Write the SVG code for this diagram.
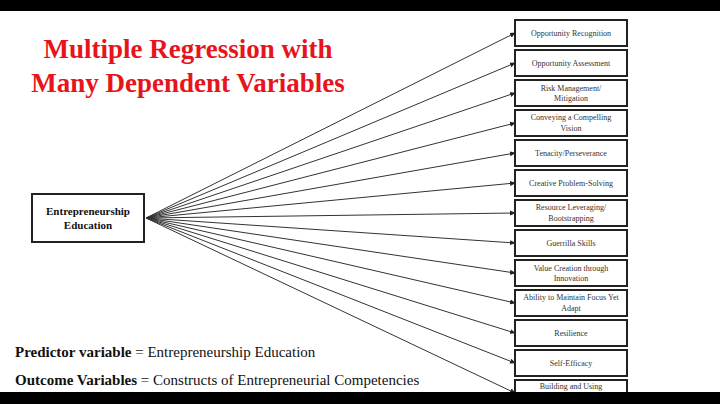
<svg xmlns="http://www.w3.org/2000/svg" width="720" height="404" viewBox="0 0 720 404">
<style>
.b{fill:#fff;stroke:#222;stroke-width:2}
.t{font-family:"Liberation Serif",serif;font-size:8px;fill:#333;text-anchor:middle}
.c line{stroke:#333;stroke-width:1;marker-end:url(#a)}
.ti{font-family:"Liberation Serif",serif;font-size:27px;font-weight:bold;fill:#e8141b;text-anchor:middle}
.f{font-family:"Liberation Serif",serif;font-size:15px;fill:#111}
</style>
<defs><marker id="a" markerWidth="6" markerHeight="6" refX="5" refY="3" orient="auto" markerUnits="userSpaceOnUse"><path d="M0,0.5L6,3L0,5.5z" fill="#222"/></marker></defs>
<rect width="720" height="404" fill="#fff"/>
<text class="ti" x="188" y="58">Multiple Regression with</text>
<text class="ti" x="188" y="92">Many Dependent Variables</text>
<g id="src"><rect class="b" x="32" y="194" width="112" height="48"/>
<text class="t" style="font-weight:bold;font-size:11px;fill:#111" x="88" y="215">Entrepreneurship</text>
<text class="t" style="font-weight:bold;font-size:11px;fill:#111" x="88" y="229">Education</text></g>
<g class="c">
<line x1="146" y1="218" x2="515" y2="33"/><line x1="146" y1="218" x2="515" y2="63"/><line x1="146" y1="218" x2="515" y2="93"/><line x1="146" y1="218" x2="515" y2="123"/><line x1="146" y1="218" x2="515" y2="153"/><line x1="146" y1="218" x2="515" y2="183"/><line x1="146" y1="218" x2="515" y2="213"/><line x1="146" y1="218" x2="515" y2="243"/><line x1="146" y1="218" x2="515" y2="273"/><line x1="146" y1="218" x2="515" y2="303"/><line x1="146" y1="218" x2="515" y2="333"/><line x1="146" y1="218" x2="515" y2="363"/><line x1="146" y1="218" x2="515" y2="393"/>
</g>
<g id="n1"><rect class="b" x="515" y="20" width="112" height="26"/><text class="t" x="571" y="36">Opportunity Recognition</text></g>
<g id="n2"><rect class="b" x="515" y="50" width="112" height="26"/><text class="t" x="571" y="66">Opportunity Assessment</text></g>
<g id="n3"><rect class="b" x="515" y="80" width="112" height="26"/><text class="t" x="571" y="91">Risk Management/</text><text class="t" x="571" y="101">Mitigation</text></g>
<g id="n4"><rect class="b" x="515" y="110" width="112" height="26"/><text class="t" x="571" y="120">Conveying a Compelling</text><text class="t" x="571" y="131">Vision</text></g>
<g id="n5"><rect class="b" x="515" y="140" width="112" height="26"/><text class="t" x="571" y="156">Tenacity/Perseverance</text></g>
<g id="n6"><rect class="b" x="515" y="170" width="112" height="26"/><text class="t" x="571" y="186">Creative Problem-Solving</text></g>
<g id="n7"><rect class="b" x="515" y="200" width="112" height="26"/><text class="t" x="571" y="210">Resource Leveraging/</text><text class="t" x="571" y="221">Bootstrapping</text></g>
<g id="n8"><rect class="b" x="515" y="230" width="112" height="26"/><text class="t" x="571" y="246">Guerrilla Skills</text></g>
<g id="n9"><rect class="b" x="515" y="260" width="112" height="26"/><text class="t" x="571" y="271">Value Creation through</text><text class="t" x="571" y="281">Innovation</text></g>
<g id="n10"><rect class="b" x="515" y="290" width="112" height="26"/><text class="t" x="571" y="300">Ability to Maintain Focus Yet</text><text class="t" x="571" y="311">Adapt</text></g>
<g id="n11"><rect class="b" x="515" y="320" width="112" height="26"/><text class="t" x="571" y="336">Resilience</text></g>
<g id="n12"><rect class="b" x="515" y="350" width="112" height="26"/><text class="t" x="571" y="366">Self-Efficacy</text></g>
<g id="n13"><rect class="b" x="515" y="380" width="112" height="26"/><text class="t" x="571" y="389">Building and Using</text></g>
<text class="f" x="15" y="357"><tspan font-weight="bold">Predictor variable</tspan> = Entrepreneurship Education</text>
<text class="f" x="15" y="385"><tspan font-weight="bold">Outcome Variables</tspan> = Constructs of Entrepreneurial Competencies</text>
<rect x="0" y="0" width="720" height="11" fill="#000"/>
<rect x="0" y="392" width="720" height="12" fill="#000"/>
</svg>
